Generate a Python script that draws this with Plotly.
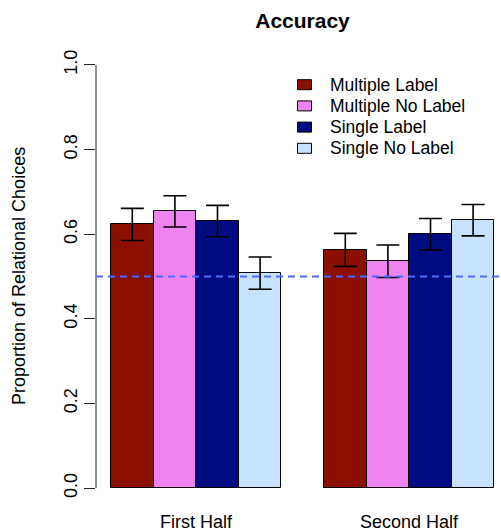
import plotly.graph_objects as go

groups = ["First Half", "Second Half"]
series = ["Multiple Label", "Multiple No Label", "Single Label", "Single No Label"]
colors = ["#8B1000", "#EE82EE", "#000C80", "#C6E2FF"]
values = {
    "Multiple Label":    [0.623, 0.563],
    "Multiple No Label": [0.654, 0.536],
    "Single Label":      [0.631, 0.600],
    "Single No Label":   [0.508, 0.633],
}
errors = {
    "Multiple Label":    [0.038, 0.039],
    "Multiple No Label": [0.037, 0.0385],
    "Single Label":      [0.037, 0.037],
    "Single No Label":   [0.038, 0.037],
}
chance = 0.5
yticks = [0.0, 0.2, 0.4, 0.6, 0.8, 1.0]
yticklabels = ["0.0", "0.2", "0.4", "0.6", "0.8", "1.0"]
title = "Accuracy"
ylabel = "Proportion of Relational Choices"

FONT = "Liberation Sans, Arial, Helvetica, sans-serif"
W, H = 501, 531
L, R, T, B = 96, 0, 48, 26
PW, PH = W - L - R, H - T - B

def px(xp):
    return (xp - L) / PW

def py(yp):
    return (H - B - yp) / PH

nser = len(series)
fig = go.Figure()
for s, name in enumerate(series):
    xs = [1 + g * (nser + 1) + s + 0.5 for g in range(len(groups))]
    fig.add_trace(go.Bar(
        x=xs, y=values[name], width=1.0, name=name,
        marker=dict(color=colors[s], line=dict(color="black", width=1)),
        error_y=dict(type="data", array=errors[name], symmetric=True,
                     color="black", thickness=1.6, width=11.5),
        showlegend=False,
    ))

# x scale: one bar unit = 42.6 px, first bar starting at pixel 111
unit = 42.6
xmin = 1 - (111.0 - L) / unit
xmax = xmin + PW / unit

fig.update_layout(
    width=W, height=H,
    margin=dict(l=L, r=R, t=T, b=B, pad=0),
    paper_bgcolor="white", plot_bgcolor="white",
    font=dict(family=FONT, size=18, color="black"),
    bargap=0,
    xaxis=dict(range=[xmin, xmax], showticklabels=False, showgrid=False,
               zeroline=False, showline=False, ticks=""),
    yaxis=dict(range=[-0.04, 1.04], tickvals=yticks, ticktext=yticklabels,
               tickangle=-90, ticks="outside", ticklen=11, tickwidth=1,
               tickcolor="#222", showgrid=False, zeroline=False, showline=False,
               tickfont=dict(size=18, family=FONT)),
    title=dict(text="<b>" + title + "</b>", x=px(302.5), xanchor="center",
               xref="paper", y=1 - 20.4 / H, yanchor="middle", yref="container",
               font=dict(size=21, family=FONT, color="black")),
    showlegend=False,
)

# y axis line spanning 0..1 only
fig.add_shape(type="line", xref="paper", yref="y", x0=0, x1=0, y0=0, y1=1,
              line=dict(color="#222", width=1))

# chance line
fig.add_shape(type="line", xref="paper", yref="y", x0=0, x1=1, y0=chance, y1=chance,
              line=dict(color="#4F6BFF", width=2, dash="7px,5px"), layer="above")

# group labels
for g, gname in enumerate(groups):
    xc = 1 + g * (nser + 1) + nser / 2
    fig.add_annotation(x=xc, xref="x", y=py(521.7), yref="paper", text=gname,
                       showarrow=False, xanchor="center", yanchor="middle",
                       font=dict(size=18, family=FONT))

# y label
fig.add_annotation(x=px(19), xref="paper", y=py(276), yref="paper", text=ylabel,
                   textangle=-90, showarrow=False, xanchor="center", yanchor="middle",
                   font=dict(size=18, family=FONT))

# legend (manual, R style)
row0, drow = 84.7, 21.2
for s, name in enumerate(series):
    yc = row0 + s * drow
    fig.add_shape(type="rect", xref="paper", yref="paper",
                  x0=px(297.5), x1=px(311.5), y0=py(yc + 5), y1=py(yc - 5),
                  fillcolor=colors[s], line=dict(color="black", width=1))
    fig.add_annotation(x=px(327.5), xref="paper", y=py(yc), yref="paper", text=name,
                       showarrow=False, xanchor="left", yanchor="middle",
                       font=dict(size=17.5, family=FONT))

fig.write_html("out.html",
               config={"displayModeBar": False},
               post_script="document.body.style.margin='0';document.body.style.overflow='hidden';")
